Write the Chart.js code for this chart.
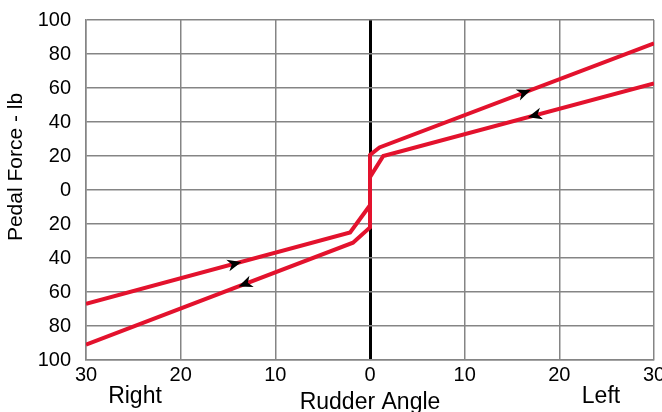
<!DOCTYPE html>
<html>
<head>
<meta charset="utf-8">
<script src="https://cdn.jsdelivr.net/npm/chart.js@4/dist/chart.umd.min.js"></script>
<style>
  body { margin: 0; background: #fff; }
  #wrap { width: 662px; height: 412px; }
</style>
</head>
<body>
<div id="wrap"><canvas id="myChart" width="662" height="412"></canvas></div>
<script>
// rudder angle (negative = right) and pedal force
const incAngle = [-30, -2.1, 0, 0, 1, 30];
const incForce = [-67, -25, -9, 20.6, 25, 86.3];
const decAngle = [30, 1.4, 0, 0, -1.8, -30];
const decForce = [62.7, 20, 7.6, -22, -31, -91];

const xTicks = [-30, -20, -10, 0, 10, 20, 30];
const yTicks = [-100, -80, -60, -40, -20, 0, 20, 40, 60, 80, 100];

// arrowheads: which series, and at what rudder angle
const arrowSeries = [0, 0, 1, 1];
const arrowAngle = [-14.3, 16.3, 17.4, -13.2];

const red = '#e3122d';
const gridGray = '#858585';
const fontFamily = "'Liberation Sans', Arial, sans-serif";

Chart.defaults.font.family = fontFamily;
Chart.defaults.color = '#000';

const toPoints = (xs, ys) => xs.map((x, i) => ({ x: x, y: ys[i] }));

const arrows = {
    id: 'arrows',
    afterDatasetsDraw(chart) {
        const ctx = chart.ctx;
        const xs = chart.scales.x;
        arrowAngle.forEach((a, i) => {
            const pts = chart.getDatasetMeta(arrowSeries[i]).data;
            const px = xs.getPixelForValue(a);
            for (let j = 0; j < pts.length - 1; j++) {
                const p0 = pts[j], p1 = pts[j + 1];
                if (p0.x === p1.x) continue;
                const lo = Math.min(p0.x, p1.x), hi = Math.max(p0.x, p1.x);
                if (px < lo || px > hi) continue;
                const t = (px - p0.x) / (p1.x - p0.x);
                const py = p0.y + t * (p1.y - p0.y);
                const ang = Math.atan2(p1.y - p0.y, p1.x - p0.x);
                ctx.save();
                ctx.translate(px, py);
                ctx.rotate(ang);
                ctx.beginPath();
                ctx.moveTo(7, 0);
                ctx.lineTo(-7, -6);
                ctx.lineTo(-3, 0);
                ctx.lineTo(-7, 6);
                ctx.closePath();
                ctx.fillStyle = '#000';
                ctx.fill();
                ctx.restore();
                break;
            }
        });
    }
};

// axis titles and the Right / Left side labels
const axisText = {
    id: 'axisText',
    afterDraw(chart) {
        const ctx = chart.ctx;
        const area = chart.chartArea;
        ctx.save();
        ctx.fillStyle = '#000';
        ctx.textAlign = 'center';
        ctx.textBaseline = 'alphabetic';
        ctx.font = '23px ' + fontFamily;
        ctx.fillText('Right', 135, 403);
        ctx.fillText('Left', 601, 403);
        ctx.fillText('Rudder Angle', (area.left + area.right) / 2, 409);
        ctx.font = '21px ' + fontFamily;
        ctx.translate(22, 167);
        ctx.rotate(-Math.PI / 2);
        ctx.fillText('Pedal Force - lb', 0, 0);
        ctx.restore();
    }
};

new Chart(document.getElementById('myChart').getContext('2d'), {
    type: 'line',
    data: {
        datasets: [
            {
                data: toPoints(incAngle, incForce),
                borderColor: red,
                borderWidth: 4,
                pointRadius: 0,
                tension: 0
            },
            {
                data: toPoints(decAngle, decForce),
                borderColor: red,
                borderWidth: 4,
                pointRadius: 0,
                tension: 0
            }
        ]
    },
    options: {
        responsive: false,
        animation: false,
        layout: { padding: { top: 20, right: 8, left: 0, bottom: 0 } },
        plugins: {
            legend: { display: false },
            tooltip: { enabled: false }
        },
        scales: {
            x: {
                type: 'linear',
                min: -30,
                max: 30,
                afterBuildTicks: (s) => { s.ticks = xTicks.map(v => ({ value: v })); },
                afterFit: (s) => { s.height = 52; s.paddingLeft = 0; s.paddingRight = 0; },
                ticks: {
                    font: { size: 20 },
                    padding: 3,
                    maxRotation: 0,
                    callback: (v) => Math.abs(v)
                },
                grid: {
                    drawTicks: false,
                    color: (c) => c.tick && c.tick.value === 0 ? '#000' : gridGray,
                    lineWidth: (c) => c.tick && c.tick.value === 0 ? 3 : 1.5
                },
                border: { color: gridGray, width: 1.5 }
            },
            y: {
                min: -100,
                max: 100,
                afterBuildTicks: (s) => { s.ticks = yTicks.map(v => ({ value: v })); },
                afterFit: (s) => { s.width = 86; s.paddingTop = 0; s.paddingBottom = 0; },
                ticks: {
                    font: { size: 20 },
                    padding: 15,
                    callback: (v) => Math.abs(v)
                },
                grid: {
                    drawTicks: false,
                    color: gridGray,
                    lineWidth: 1.5
                },
                border: { color: gridGray, width: 1.5 }
            }
        }
    },
    plugins: [arrows, axisText]
});
</script>
</body>
</html>
